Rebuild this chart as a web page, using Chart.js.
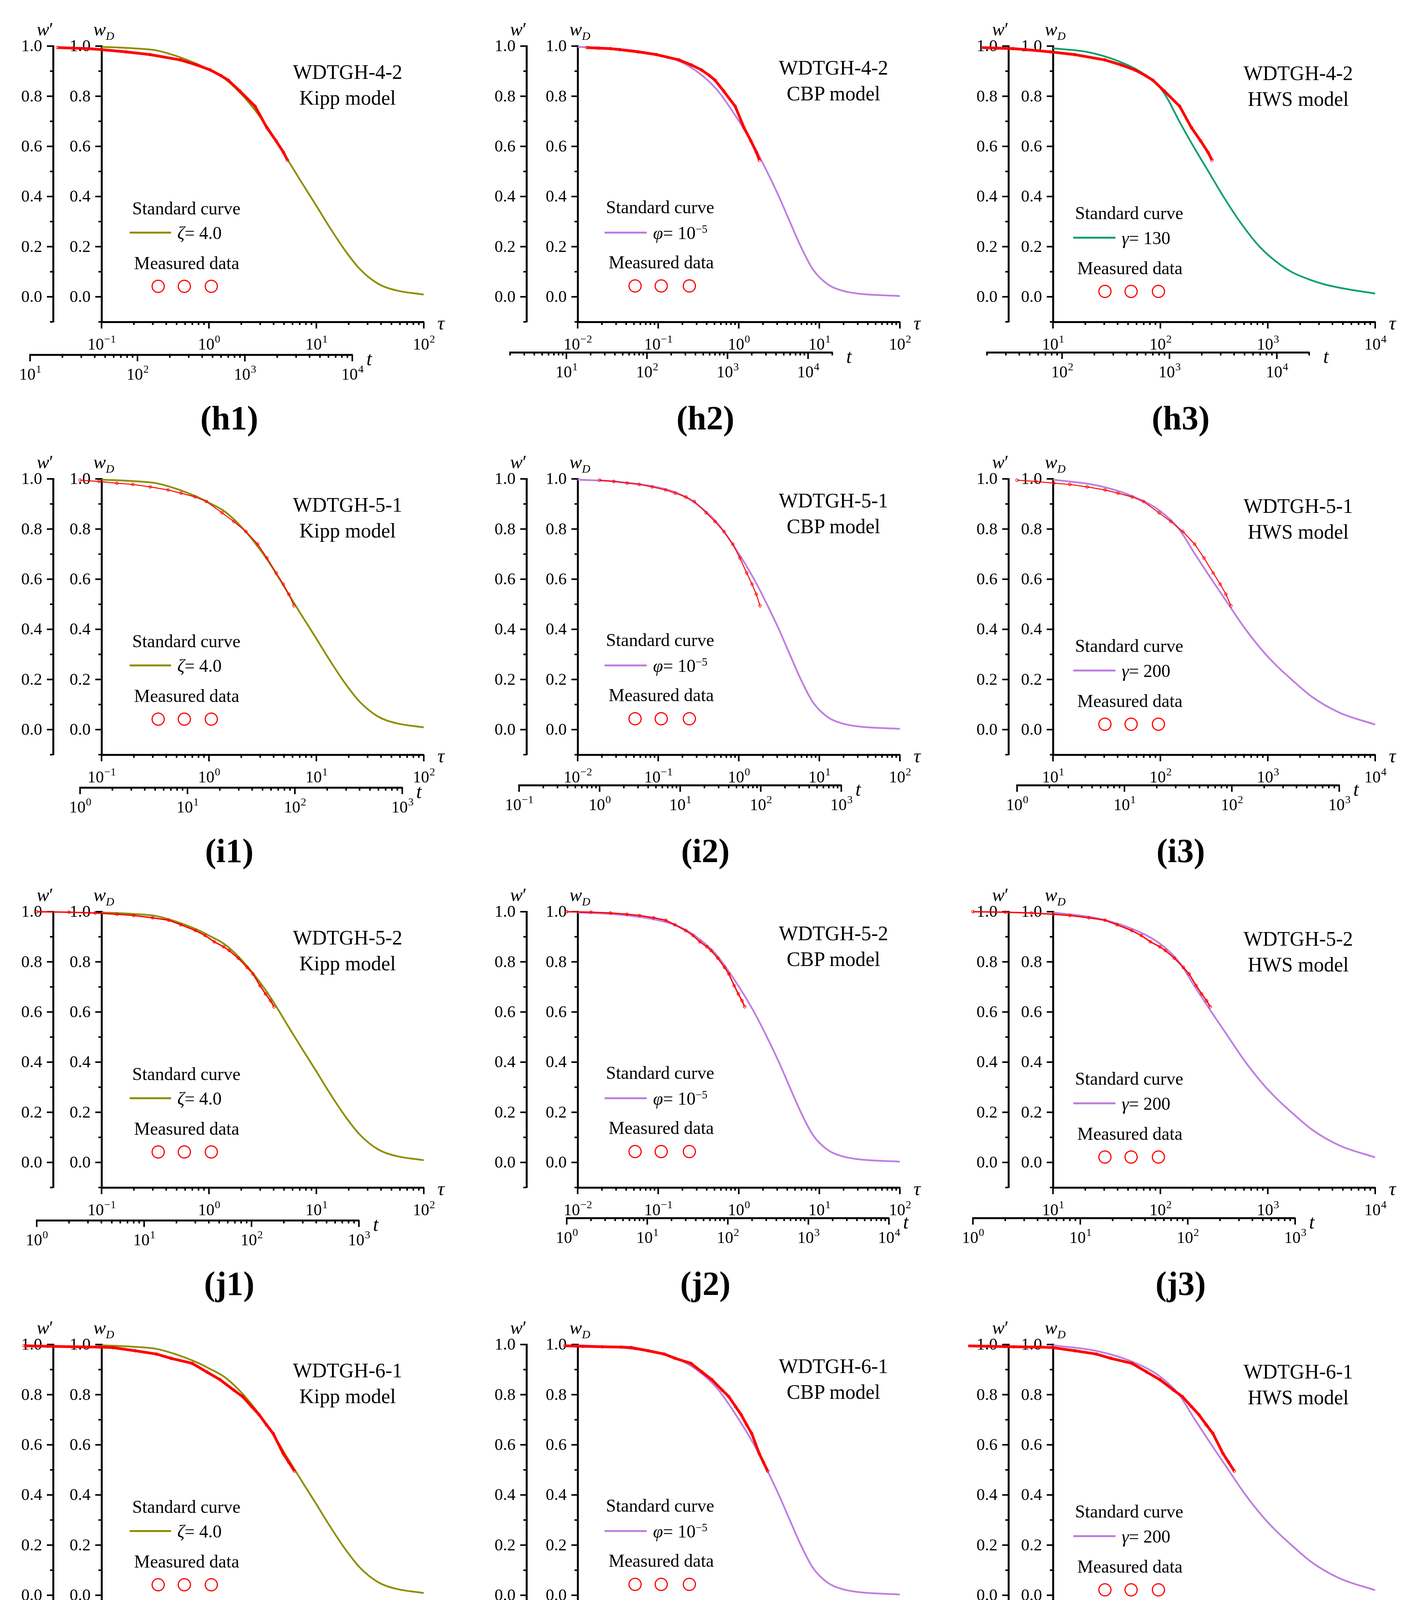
<!DOCTYPE html>
<html>
<head>
<meta charset="utf-8">
<script src="https://cdn.jsdelivr.net/npm/chart.js@4.4.1/dist/chart.umd.min.js"></script>
<style>
  body { margin: 0; background: #fff; }
  #fig { position: relative; width: 3605px; height: 5572px; overflow: hidden;
         font-family: "Liberation Serif", "Times New Roman", serif; color: #000; }
  #fig canvas { position: absolute; }
  .txt { position: absolute; white-space: nowrap; line-height: 1; }
  .txt sub { font-size: 0.62em; vertical-align: -0.38em; line-height: 0; }
  .txt sup { font-size: 0.62em; vertical-align: 0.55em; line-height: 0; }
  .mark { position: absolute; box-sizing: border-box; }
</style>
</head>
<body>
<div id="fig"></div>
<script>
// Standard curves: tau and dimensionless drawdown wD
const kippTau4 = [0.1, 0.2, 0.32, 0.5, 0.76, 1.0, 1.4, 1.94, 2.6, 3.46, 4.4, 5.43, 7.2, 9.7, 13.4, 18.5, 25.5, 37.6, 55, 100];
const kippZeta4 = [0.997, 0.991, 0.983, 0.96, 0.93, 0.905, 0.87, 0.815, 0.752, 0.68, 0.61, 0.545, 0.46, 0.372, 0.275, 0.185, 0.11, 0.052, 0.026, 0.009];
const kippTau3 = [0.1, 0.21, 0.45, 0.7, 0.97, 1.3, 1.74, 2.3, 3.1, 4.2, 5.5, 8.2, 12, 17.6, 26, 46, 100];
const kippZeta3 = [0.998, 0.983, 0.956, 0.92, 0.879, 0.835, 0.784, 0.72, 0.642, 0.56, 0.476, 0.346, 0.216, 0.121, 0.056, 0.02, 0.005];
const cbpTau = [0.01, 0.031, 0.1, 0.174, 0.29, 0.53, 1.0, 1.55, 2.2, 3.15, 4.3, 5.9, 8.3, 12.7, 19.6, 30, 100];
const cbpPhi = [0.997, 0.989, 0.966, 0.943, 0.903, 0.828, 0.702, 0.6, 0.505, 0.4, 0.3, 0.2, 0.11, 0.05, 0.024, 0.013, 0.003];
const hwsTau130 = [10, 20.6, 39, 65.6, 96.6, 113, 150, 203, 280, 386, 560, 838, 1200, 1650, 2400, 3340, 5250, 10000];
const hwsGamma130 = [0.991, 0.977, 0.943, 0.897, 0.84, 0.8, 0.7, 0.6, 0.5, 0.4, 0.295, 0.2, 0.14, 0.1, 0.07, 0.05, 0.032, 0.013];
const hwsTau200 = [10, 25, 55, 98, 149, 210, 299, 430, 609, 880, 1200, 1663, 2596, 4634, 10000];
const hwsGamma200 = [0.997, 0.975, 0.931, 0.874, 0.8, 0.7, 0.6, 0.5, 0.405, 0.318, 0.256, 0.2, 0.13, 0.068, 0.02];

// Measured data: time t and drawdown ratio w'
const t42 = [18, 25, 35, 46, 78, 131, 250, 355, 475, 600, 700, 900, 1245, 1600, 1950, 2290, 2490];
const w42 = [0.994, 0.992, 0.99, 0.986, 0.977, 0.966, 0.945, 0.925, 0.905, 0.882, 0.864, 0.82, 0.76, 0.675, 0.622, 0.576, 0.545];
const t51 = [1.0, 1.5, 2.2, 3.1, 4.5, 6.6, 8.7, 11.8, 15, 21, 27, 35, 45, 55, 67, 78, 88, 98];
const w51 = [0.995, 0.99, 0.983, 0.978, 0.968, 0.956, 0.943, 0.928, 0.91, 0.865, 0.83, 0.79, 0.74, 0.685, 0.625, 0.58, 0.54, 0.494];
const t52 = [1.0, 2, 3.5, 5.6, 8, 12, 17, 22, 30, 37, 45, 55, 62, 75, 91, 103, 120, 135, 150, 162];
const w52 = [1.0, 0.998, 0.995, 0.99, 0.985, 0.976, 0.966, 0.948, 0.925, 0.905, 0.88, 0.86, 0.845, 0.815, 0.778, 0.752, 0.705, 0.672, 0.645, 0.621];
const t61 = [2.4, 4, 7, 12, 16, 26, 41, 56, 88, 121, 160, 215, 260, 316, 370, 433, 500, 620, 700, 790];
const w61 = [0.995, 0.993, 0.991, 0.99, 0.988, 0.975, 0.962, 0.945, 0.925, 0.89, 0.86, 0.818, 0.792, 0.752, 0.72, 0.68, 0.645, 0.565, 0.53, 0.495];
const t62 = [1.0, 1.5, 2.2, 3.2, 4.9, 7, 8.8, 12, 15.6, 20, 23, 28, 34, 40, 50, 65, 73, 90, 105, 118];
const w62 = [1.0, 0.99, 0.978, 0.966, 0.956, 0.935, 0.918, 0.89, 0.86, 0.82, 0.795, 0.76, 0.715, 0.685, 0.615, 0.56, 0.52, 0.46, 0.415, 0.388];

// Panel labels, wells and models
const rowLetters = ['h', 'i', 'j', 'k', 'l'];
const wells = ['WDTGH-4-2', 'WDTGH-5-1', 'WDTGH-5-2', 'WDTGH-6-1', 'WDTGH-6-2'];
const models = ['Kipp model', 'CBP model', 'HWS model'];
const measT = [t42, t51, t52, t61, t62];
const measW = [w42, w51, w52, w61, w62];

// Axis ranges: tau per model column, t per panel, and log10(tau / t) per panel
const tauRanges = [[0.1, 100], [0.01, 100], [10, 10000]];
const tRanges = [
  [[10, 1e4], [2, 2e4], [20, 2e4]],
  [[1, 1e3], [0.1, 1e3], [1, 1e3]],
  [[1, 1e3], [1, 1e4], [1, 1e3]],
  [[2, 2e3], [1, 1e4], [4, 4e3]],
  [[1, 1e3], [0.1, 1e3], [1, 1e3]],
];
const tauShift = [
  [-2.665, -3.141, -0.916],
  [-1.201, -1.726, 0.665],
  [-1.604, -2.134, 0.254],
  [-2.1, -2.536, -0.21],
  [-1.201, -1.594, 0.79],
];

// Layout (pixels)
const colX = [260, 1479, 2696];   // wD axis of each column
const wpGap = [124, 131, 114];    // w' axis sits this far left of wD axis
const PW = 825, PH = 706;         // plot area size (tau axis width, 1.0 .. -0.1)
const tAxisDrop = [790, 784, 784];
const titleDx = [630, 655, 628], titleDy = [67, 56, 70];
const legDx = [217, 211, 195], legDy = [416, 413, 428];
const lineX = [[72, 178], [69, 177], [52, 160]], lineDy = [477, 477, 490];
const measDx = [218, 214, 197], measDy = [556, 554, 569];
const circDx = [[145, 212, 281], [147, 214, 286], [133, 200, 270]], circDy = [615, 614, 628];
const measLine = [7, 2.5, 3.5, 7, 2.5];

const OLIVE = '#8e8e00', BROWN = '#8b4c4c', VIOLET = '#bf7fe0', GREEN = '#0da06e', RED = '#ff0000';
const SERIF = '"Liberation Serif", "Times New Roman", serif';

const fig = document.getElementById('fig');

// Pick the standard curve of a panel
const stdCurve = (r, c) => {
  if (c === 0) {
    return r === 4
      ? { tau: kippTau3, w: kippZeta3, color: BROWN, label: '<i>ζ</i>= 3.0' }
      : { tau: kippTau4, w: kippZeta4, color: OLIVE, label: '<i>ζ</i>= 4.0' };
  }
  if (c === 1) return { tau: cbpTau, w: cbpPhi, color: VIOLET, label: '<i>φ</i>= 10<sup>−5</sup>' };
  return r === 0
    ? { tau: hwsTau130, w: hwsGamma130, color: GREEN, label: '<i>γ</i>= 130' }
    : { tau: hwsTau200, w: hwsGamma200, color: VIOLET, label: '<i>γ</i>= 200' };
};

// Tick marks and tick labels drawn from the chart's own scales
const powerLabel = (ctx, x, y0, e, baseDrop, expDrop) => {
  const exp = e < 0 ? '\u2212' + (-e) : String(e);
  ctx.font = `42px ${SERIF}`;
  const wb = ctx.measureText('10').width;
  ctx.font = `28px ${SERIF}`;
  const we = ctx.measureText(exp).width;
  const left = x - (wb + we) / 2;
  ctx.textAlign = 'left';
  ctx.textBaseline = 'alphabetic';
  ctx.font = `42px ${SERIF}`;
  ctx.fillText('10', left, y0 + baseDrop);
  ctx.font = `28px ${SERIF}`;
  ctx.fillText(exp, left + wb + 1, y0 + expDrop);
};

const logMarks = (ctx, scale, opts) => {
  const y0 = scale.top;
  const lo = Math.floor(Math.log10(scale.min) + 1e-9);
  const hi = Math.ceil(Math.log10(scale.max) - 1e-9);
  for (let e = lo; e <= hi; e++) {
    for (let m = 1; m < 10; m++) {
      const v = m * Math.pow(10, e);
      if (v < scale.min * 0.999 || v > scale.max * 1.001) continue;
      const x = scale.getPixelForValue(v);
      ctx.beginPath();
      ctx.moveTo(x, y0);
      ctx.lineTo(x, y0 + (m === 1 ? 17 : 8));
      ctx.stroke();
      if (m === 1) powerLabel(ctx, x, y0, e, opts.baseDrop, opts.expDrop);
    }
  }
};

const linMarks = (ctx, scale) => {
  const x0 = scale.right;
  ctx.font = `43px ${SERIF}`;
  ctx.textAlign = 'right';
  ctx.textBaseline = 'middle';
  for (let k = -1; k <= 10; k++) {
    const y = scale.getPixelForValue(k / 10);
    const major = k % 2 === 0;
    ctx.beginPath();
    ctx.moveTo(x0, y);
    ctx.lineTo(x0 - (major ? 16 : 8), y);
    ctx.stroke();
    if (major) ctx.fillText((k / 10).toFixed(1), x0 - 28, y + 2);
  }
};

const axisMarks = {
  id: 'axisMarks',
  afterDraw(chart, args, opts) {
    const ctx = chart.ctx;
    ctx.save();
    ctx.strokeStyle = '#000';
    ctx.fillStyle = '#000';
    ctx.lineWidth = 4;
    (opts.log || []).forEach((id) => logMarks(ctx, chart.scales[id], opts));
    (opts.lin || []).forEach((id) => linMarks(ctx, chart.scales[id]));
    ctx.restore();
  },
};

// DOM helpers
const makeCanvas = (left, top, w, h) => {
  const cv = document.createElement('canvas');
  cv.width = w;
  cv.height = h;
  Object.assign(cv.style, { left: left + 'px', top: top + 'px', width: w + 'px', height: h + 'px' });
  fig.appendChild(cv);
  return cv;
};

const put = (html, x, y, size, anchor = 'center', extra = {}) => {
  const el = document.createElement('div');
  el.className = 'txt';
  el.innerHTML = html;
  Object.assign(el.style, {
    left: x + 'px', top: y + 'px', fontSize: size + 'px',
    transform: anchor === 'left' ? 'translate(0,-50%)' : 'translate(-50%,-50%)',
  }, extra);
  fig.appendChild(el);
};

const box = (left, top, w, h, css) => {
  const el = document.createElement('div');
  el.className = 'mark';
  Object.assign(el.style, { left: left + 'px', top: top + 'px', width: w + 'px', height: h + 'px' }, css);
  fig.appendChild(el);
};

const axisLine = { display: true, width: 5, color: '#000' };
const noGrid = { display: true, drawOnChartArea: false, drawTicks: false };
const fixHeight = (h) => (s) => { s.height = h; };
const fixWidth = (w) => (s) => { s.width = w; };

const buildPanel = (r, c) => {
  const top = 118 + 1108 * r;
  const x0 = colX[c];
  const gap = wpGap[c];
  const [tauMin, tauMax] = tauRanges[c];
  const dec = PW / Math.log10(tauMax / tauMin);
  const [tMin, tMax] = tRanges[r][c];
  const tLeft = x0 + (Math.log10(tMin) + tauShift[r][c] - Math.log10(tauMin)) * dec;
  const spacer = tAxisDrop[c] - PH;
  const curve = stdCurve(r, c);

  // Chart A: standard curve on tau / wD, with the w' axis alongside
  const cA = makeCanvas(x0 - gap - 110, top - 110, 110 + gap + PW + 110, 110 + PH + 110);
  new Chart(cA, {
    type: 'scatter',
    data: {
      datasets: [{
        data: curve.tau.map((x, i) => ({ x, y: curve.w[i] })),
        showLine: true,
        borderColor: curve.color,
        borderWidth: 4.5,
        pointRadius: 0,
        cubicInterpolationMode: 'monotone',
        xAxisID: 'x',
        yAxisID: 'y',
      }],
    },
    options: {
      responsive: false,
      animation: false,
      devicePixelRatio: 1,
      layout: { padding: { left: 0, top: 110, right: 110, bottom: 0 } },
      plugins: {
        legend: { display: false },
        tooltip: { enabled: false },
        axisMarks: { log: ['x'], lin: ['y', 'y2'], baseDrop: 71, expDrop: 53 },
      },
      scales: {
        x: { type: 'logarithmic', position: 'bottom', min: tauMin, max: tauMax,
             ticks: { display: false }, grid: noGrid, border: axisLine, afterFit: fixHeight(110) },
        y: { type: 'linear', position: 'left', min: -0.1, max: 1.0,
             ticks: { display: false }, grid: noGrid, border: axisLine, afterFit: fixWidth(gap) },
        y2: { type: 'linear', position: 'left', weight: 1, min: -0.1, max: 1.0,
              ticks: { display: false }, grid: noGrid, border: axisLine, afterFit: fixWidth(110) },
      },
    },
    plugins: [axisMarks],
  });

  // Chart B: measured data on t / w', t axis hung below the tau axis
  const cB = makeCanvas(tLeft - 50, top - 110, 50 + PW + 120, 110 + PH + spacer + 110);
  new Chart(cB, {
    type: 'scatter',
    data: {
      datasets: [{
        data: measT[r].map((x, i) => ({ x, y: measW[r][i] })),
        showLine: true,
        borderColor: RED,
        borderWidth: measLine[r],
        pointRadius: 3.5,
        pointBorderWidth: 1.5,
        pointBorderColor: RED,
        pointBackgroundColor: 'rgba(255,255,255,0)',
        clip: false,
        xAxisID: 'x',
        yAxisID: 'y',
      }],
    },
    options: {
      responsive: false,
      animation: false,
      devicePixelRatio: 1,
      layout: { padding: { left: 50, top: 110, right: 120, bottom: 0 } },
      plugins: {
        legend: { display: false },
        tooltip: { enabled: false },
        axisMarks: { log: ['x'], baseDrop: 64, expDrop: 46 },
      },
      scales: {
        x: { type: 'logarithmic', position: 'bottom', weight: 1, min: tMin, max: tMax,
             ticks: { display: false }, grid: noGrid, border: axisLine, afterFit: fixHeight(110) },
        sp: { type: 'linear', axis: 'x', position: 'bottom', weight: 0, min: 0, max: 1,
              ticks: { display: false }, grid: { display: false }, border: { display: false },
              afterFit: fixHeight(spacer) },
        y: { type: 'linear', min: -0.1, max: 1.0, display: false },
      },
    },
    plugins: [axisMarks],
  });

  // Axis names
  put('<i>w</i>′', x0 - gap - 42, top - 43, 48, 'left');
  put('<i>w</i><sub><i>D</i></sub>', x0 - 21, top - 43, 48, 'left');
  put('<i>τ</i>', x0 + PW + 35, top + PH + 3, 50, 'left');
  put('<i>t</i>', tLeft + PW + 36, top + tAxisDrop[c] + 10, 50, 'left');

  // Titles
  put(wells[r], x0 + titleDx[c], top + titleDy[c], 52);
  put(models[c], x0 + titleDx[c], top + titleDy[c] + 66, 52);

  // Legend
  put('Standard curve', x0 + legDx[c], top + legDy[c], 46);
  box(x0 + lineX[c][0], top + lineDy[c] - 2.5, lineX[c][1] - lineX[c][0], 5, { background: curve.color });
  put(curve.label, x0 + lineX[c][1] + 16, top + lineDy[c] + 2, 46, 'left');
  put('Measured data', x0 + measDx[c], top + measDy[c], 46);
  circDx[c].forEach((cx) => {
    box(x0 + cx - 17, top + circDy[c] - 17, 34, 34, { border: '3px solid ' + RED, borderRadius: '50%' });
  });

  // Panel label
  put(`<b>(${rowLetters[r]}${c + 1})</b>`, x0 + 327, top + 952, 86);
};

rowLetters.forEach((_, r) => {
  for (let c = 0; c < 3; c++) buildPanel(r, c);
});
</script>
</body>
</html>
